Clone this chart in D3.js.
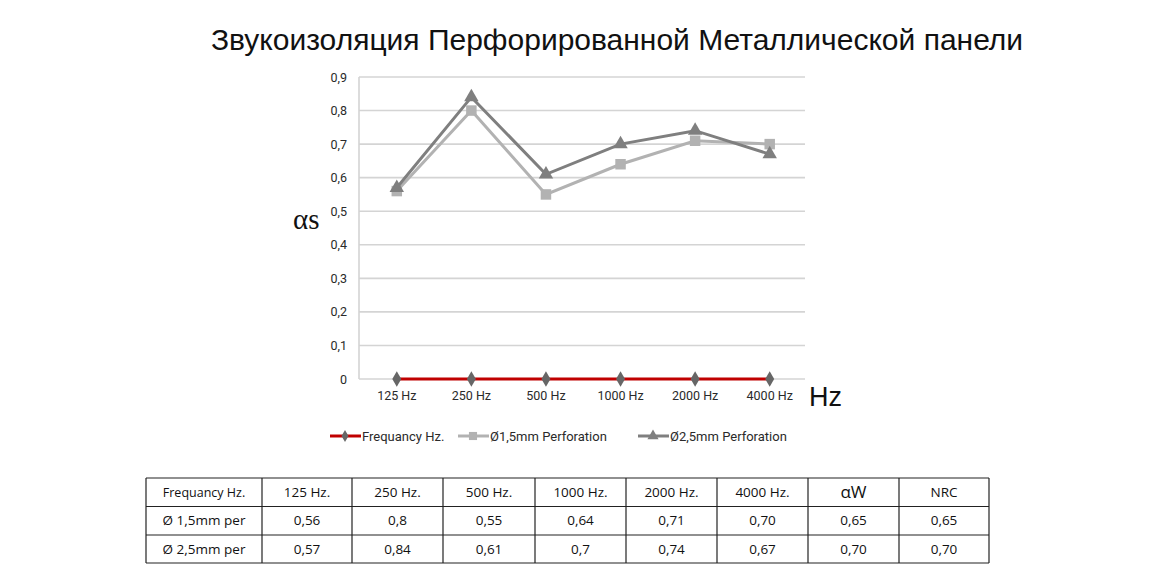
<!DOCTYPE html>
<html>
<head>
<meta charset="utf-8">
<script src="https://cdn.jsdelivr.net/npm/d3@7"></script>
<style>
  body { margin: 0; background: #fff; }
  svg { display: block; }
</style>
</head>
<body>
<svg id="chart" width="1170" height="570"></svg>
<script>
// data
const freqs = ["125 Hz", "250 Hz", "500 Hz", "1000 Hz", "2000 Hz", "4000 Hz"];
const frequancy = [0, 0, 0, 0, 0, 0];
const perf15 = [0.56, 0.8, 0.55, 0.64, 0.71, 0.70];
const perf25 = [0.57, 0.84, 0.61, 0.7, 0.74, 0.67];
const yTicks = [0, 0.1, 0.2, 0.3, 0.4, 0.5, 0.6, 0.7, 0.8, 0.9];

const tableHeader = ["Frequancy Hz.", "125 Hz.", "250 Hz.", "500 Hz.", "1000 Hz.", "2000 Hz.", "4000 Hz.", "αW", "NRC"];
const tableRow15 = ["Ø 1,5mm per", "0,56", "0,8", "0,55", "0,64", "0,71", "0,70", "0,65", "0,65"];
const tableRow25 = ["Ø 2,5mm per", "0,57", "0,84", "0,61", "0,7", "0,74", "0,67", "0,70", "0,70"];

const svg = d3.select("#chart");

const x = d3.scaleBand().domain(freqs).range([359.5, 807]);
const y = d3.scaleLinear().domain([0, 0.9]).range([379, 77]);
const cx = d => x(d) + x.bandwidth() / 2;

const fmt = v => v === 0 ? "0" : d3.format(".1f")(v).replace(".", ",");
const labelFont = "Roboto, sans-serif";

// title
svg.append("text")
    .attr("x", 617)
    .attr("y", 50)
    .attr("text-anchor", "middle")
    .style("font-family", "Liberation Sans, Arial, sans-serif")
    .style("font-size", "30px")
    .style("fill", "#111")
    .text("Звукоизоляция Перфорированной Металлической панели");

// gridlines
svg.append("g")
    .selectAll("line")
    .data(yTicks)
    .join("line")
    .attr("x1", 359)
    .attr("x2", 805)
    .attr("y1", d => y(d))
    .attr("y2", d => y(d))
    .style("stroke", "#d4d4d4")
    .style("stroke-width", 1.6);

// left axis line
svg.append("line")
    .attr("x1", 359).attr("x2", 359)
    .attr("y1", y(0.9)).attr("y2", y(0))
    .style("stroke", "#d4d4d4")
    .style("stroke-width", 1.6);

// y axis labels
const yAxis = d3.axisLeft(y).tickValues(yTicks).tickFormat(fmt).tickSize(0).tickPadding(12);
const yg = svg.append("g").attr("transform", "translate(359,0)").call(yAxis);
yg.select(".domain").remove();
yg.selectAll("text")
    .style("font-family", labelFont)
    .style("font-size", "12.5px")
    .style("fill", "#2a2a2a");

// x axis labels
const xAxis = d3.axisBottom(x).tickSize(0).tickPadding(12);
const xg = svg.append("g").attr("transform", "translate(0,379)").call(xAxis);
xg.select(".domain").remove();
xg.selectAll("text")
    .style("font-family", labelFont)
    .style("font-size", "12.5px")
    .style("fill", "#2a2a2a");

// axis titles
svg.append("text")
    .attr("x", 293).attr("y", 229)
    .style("font-family", "Liberation Serif, serif")
    .style("font-size", "29px")
    .style("fill", "#111")
    .text("αs");

svg.append("text")
    .attr("x", 809).attr("y", 406)
    .style("font-family", "Liberation Sans, Arial, sans-serif")
    .style("font-size", "27px")
    .style("fill", "#111")
    .text("Hz");

// series
const series = [
    { name: "Frequancy Hz.", values: frequancy, color: "#c00000", marker: d3.symbolDiamond, mColor: "#666666", mSize: 70 },
    { name: "Ø1,5mm Perforation", values: perf15, color: "#b2b2b2", marker: d3.symbolSquare, mColor: "#b2b2b2", mSize: 110 },
    { name: "Ø2,5mm Perforation", values: perf25, color: "#7f7f7f", marker: d3.symbolTriangle, mColor: "#7f7f7f", mSize: 90 }
];

const line = d3.line().x((d, i) => cx(freqs[i])).y(d => y(d));

svg.append("g")
    .selectAll("path")
    .data(series)
    .join("path")
    .attr("d", d => line(d.values))
    .style("fill", "none")
    .style("stroke", d => d.color)
    .style("stroke-width", 3);

series.forEach(s => {
    svg.append("g")
        .selectAll("path")
        .data(s.values)
        .join("path")
        .attr("transform", (d, i) => `translate(${cx(freqs[i])},${y(d)})`)
        .attr("d", d3.symbol().type(s.marker).size(s.mSize)())
        .style("fill", s.mColor);
});

// legend
const legendX = [330, 458, 638];
const lg = svg.append("g")
    .selectAll("g")
    .data(series)
    .join("g")
    .attr("transform", (d, i) => `translate(${legendX[i]},436)`);

lg.append("line")
    .attr("x1", 0).attr("x2", 31)
    .style("stroke", d => d.color)
    .style("stroke-width", 3);

lg.append("path")
    .attr("transform", "translate(15,0)")
    .attr("d", d => d3.symbol().type(d.marker).size(d.mSize * 0.6)())
    .style("fill", d => d.mColor);

lg.append("text")
    .attr("x", 32)
    .attr("dy", "0.35em")
    .style("font-family", labelFont)
    .style("font-size", "13px")
    .style("fill", "#2a2a2a")
    .text(d => d.name);

// table
const colEdges = [146, 262, 352, 443, 535, 626, 717, 808, 899, 989];
const rowEdges = [478, 506.5, 535, 563];
const rows = [tableHeader, tableRow15, tableRow25];

const tg = svg.append("g");

tg.selectAll("line.h")
    .data(rowEdges)
    .join("line")
    .attr("class", "h")
    .attr("x1", colEdges[0]).attr("x2", colEdges[colEdges.length - 1])
    .attr("y1", d => d).attr("y2", d => d)
    .style("stroke", "#222")
    .style("stroke-width", 1.2);

tg.selectAll("line.v")
    .data(colEdges)
    .join("line")
    .attr("class", "v")
    .attr("x1", d => d).attr("x2", d => d)
    .attr("y1", rowEdges[0]).attr("y2", rowEdges[rowEdges.length - 1])
    .style("stroke", "#222")
    .style("stroke-width", 1.2);

rows.forEach((row, r) => {
    tg.append("g")
        .selectAll("text")
        .data(row)
        .join("text")
        .attr("x", (d, c) => (colEdges[c] + colEdges[c + 1]) / 2)
        .attr("y", (rowEdges[r] + rowEdges[r + 1]) / 2)
        .attr("dy", "0.35em")
        .attr("text-anchor", "middle")
        .style("font-family", "Open Sans, sans-serif")
        .style("font-size", (d, c) => (r === 0 && c === 0) ? "12.5px" : (r === 0 && c === 7) ? "17px" : "13.5px")
        .style("fill", "#111")
        .text(d => d);
});
</script>
</body>
</html>
